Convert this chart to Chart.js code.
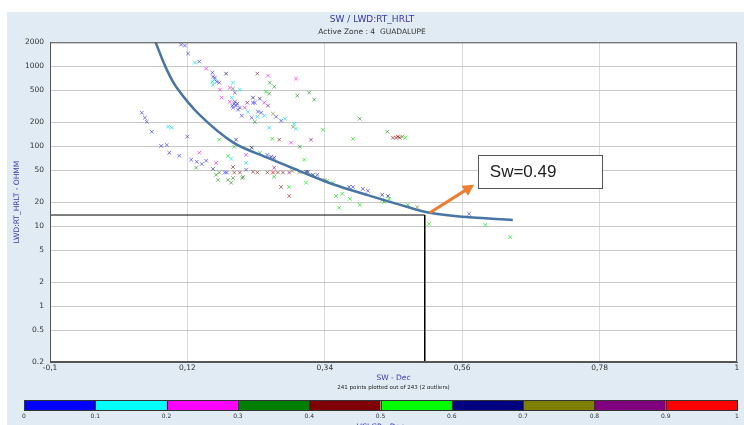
<!DOCTYPE html>
<html>
<head>
<meta charset="utf-8">
<script src="https://cdn.jsdelivr.net/npm/chart.js@4.4.1/dist/chart.umd.min.js"></script>
<style>
html, body { margin: 0; padding: 0; background: #fff; }
</style>
</head>
<body>
<canvas id="chart" width="744" height="425"></canvas>
<script>
// axis ticks
var xTicks = [-0.1, 0.12, 0.34, 0.56, 0.78, 1];
var yTicks = [0.2, 0.5, 1, 2, 5, 10, 20, 50, 100, 200, 500, 1000, 2000];

// VCLGR colour classes
var vclLabels = ['0', '0.1', '0.2', '0.3', '0.4', '0.5', '0.6', '0.7', '0.8', '0.9', '1'];
var vclColors = ['#0000ff', '#00ffff', '#ff00ff', '#008000', '#800000', '#00ff00', '#000080', '#808000', '#800080', '#ff0000'];
var ptColors = ['rgba(50,50,255,0.65)', 'rgba(0,225,235,0.7)', 'rgba(255,0,255,0.6)', 'rgba(0,128,0,0.55)',
                'rgba(128,0,0,0.55)', 'rgba(0,230,0,0.65)', 'rgba(0,0,128,0.6)', 'rgba(128,128,0,0.6)',
                'rgba(128,0,128,0.6)', 'rgba(255,0,0,0.75)'];

// points, [SW, RT] per VCLGR class
var vcl0 = [[0.110,1874],[0.116,1820],[0.121,1445],[0.139,1148],[0.160,836],[0.161,744],[0.167,644],[0.171,625],
            [0.196,469],[0.198,322],[0.193,304],[0.201,287],[0.207,241],[0.195,341],[0.200,341],[0.196,361],
            [0.204,304],[0.192,322],[0.225,351],[0.047,263],[0.052,228],[0.055,203],[0.063,152],[0.078,101],
            [0.087,104],[0.091,83],[0.107,76],[0.120,132],[0.126,68],[0.135,64],[0.143,60],[0.150,66],
            [0.161,52],[0.180,47],[0.183,47],[0.214,51],[0.228,351],[0.233,271],[0.238,263],[0.223,228],
            [0.262,234],[0.270,209],[0.248,78],[0.328,44],[0.379,31],[0.385,31],[0.401,29.3],[0.409,27.7],[0.571,14.3]];
var vcl1 = [[0.132,1115],[0.160,644],[0.161,590],[0.164,682],[0.193,625],[0.204,511],[0.191,406],[0.217,271],
            [0.232,234],[0.243,241],[0.276,221],[0.291,191],[0.294,166],[0.251,171],[0.089,176],[0.095,171],
            [0.190,70],[0.214,62]];
var vcl2 = [[0.150,938],[0.172,511],[0.188,542],[0.175,406],[0.188,361],[0.212,304],[0.243,351],[0.249,766],
            [0.294,701],[0.139,83],[0.166,62],[0.214,78],[0.286,111]];
var vcl3 = [[0.193,526],[0.252,625],[0.259,557],[0.251,455],[0.296,430],[0.315,469],[0.323,383],[0.396,221],
            [0.228,203],[0.300,99],[0.440,152],[0.464,132],[0.134,54],[0.166,44],[0.169,38],[0.185,38],
            [0.190,35],[0.193,40],[0.208,40],[0.209,41.5],[0.171,47],[0.432,21.3]];
var vcl4 = [[0.232,811],[0.267,121],[0.193,55],[0.195,47],[0.204,47],[0.225,48],[0.232,47],[0.248,47],
            [0.265,47],[0.273,47],[0.270,31],[0.283,23.9],[0.449,128],[0.454,128],[0.460,128]];
var vcl5 = [[0.246,482],[0.171,121],[0.195,99],[0.185,76],[0.256,124],[0.236,83],[0.337,161],[0.385,124],
            [0.259,41.5],[0.307,68],[0.310,35],[0.283,31],[0.344,36.9],[0.353,35],[0.358,23.9],[0.368,25.4],
            [0.380,22],[0.363,17],[0.396,18.5],[0.435,20.1],[0.443,22],[0.469,128],[0.473,18.5],[0.507,10.7],
            [0.597,10.4],[0.637,7.3]];
var vcl6 = [[0.182,811],[0.225,406],[0.236,394],[0.198,121],[0.223,96],[0.254,74],[0.259,72],[0.310,48],
            [0.313,48],[0.321,44],[0.432,24.7],[0.441,23.9]];
var vcl7 = [[0.257,256],[0.289,175],[0.288,49],[0.299,47],[0.340,38],[0.488,17.4]];
var vcl8 = [[0.164,722],[0.216,351],[0.249,322],[0.318,121],[0.259,54],[0.283,47]];
var vcl9 = [[0.257,47],[0.457,132]];
var vclSets = [vcl0, vcl1, vcl2, vcl3, vcl4, vcl5, vcl6, vcl7, vcl8, vcl9];

// Sw = 0.49 line drawn on the plot
var swCurve = [[0.069,2000],[0.087,910],[0.103,540],[0.140,245],[0.193,112],[0.248,72],[0.300,49],[0.353,33.5],
               [0.408,24.6],[0.461,18.5],[0.508,14.7],[0.561,13.1],[0.641,12.0]];
var cutX = [-0.1, 0.5, 0.5];
var cutY = [13.8, 13.8, 0.2];

// annotation (data coordinates)
var note = { text: 'Sw=0.49', x0: 0.585, x1: 0.784, y0: 78, y1: 30.2, ax: 0.508, ay: 14.7, bx: 0.579, by: 32.9 };

function xy(arr) {
    return arr.map(function(p) { return { x: p[0], y: p[1] }; });
}

var datasets = [];
datasets.push({
    type: 'line', label: 'Sw', data: xy(swCurve),
    borderColor: '#4775a6', borderWidth: 2.5, pointRadius: 0,
    tension: 0.35, fill: false
});
datasets.push({
    type: 'line', label: 'cut',
    data: cutX.map(function(v, i) { return { x: v, y: cutY[i] }; }),
    borderColor: '#000', borderWidth: 1, pointRadius: 0, tension: 0, fill: false
});
for (var i = 0; i < vclSets.length; i++) {
    datasets.push({
        type: 'scatter', label: vclLabels[i], data: xy(vclSets[i]),
        pointStyle: 'crossRot', pointRadius: 2.6, pointBorderWidth: 1,
        borderColor: ptColors[i], backgroundColor: ptColors[i]
    });
}

var extras = {
    id: 'extras',
    beforeDraw: function(chart) {
        var c = chart.ctx, a = chart.chartArea;
        c.save();
        c.fillStyle = '#fff';
        c.fillRect(0, 0, chart.width, chart.height);
        c.fillStyle = '#e1ebf4';
        c.fillRect(7, 12, chart.width - 7, chart.height - 12);
        c.fillStyle = '#fff';
        c.fillRect(a.left, a.top, a.right - a.left, a.bottom - a.top);
        c.restore();
    },
    afterDraw: function(chart) {
        var c = chart.ctx, a = chart.chartArea;
        var xs = chart.scales.x, ys = chart.scales.y;
        c.save();
        // frame
        c.strokeStyle = '#555';
        c.lineWidth = 1;
        c.strokeRect(a.left + 0.5, a.top + 0.5, a.right - a.left - 1, a.bottom - a.top - 1);

        // annotation
        var bx0 = xs.getPixelForValue(note.x0), bx1 = xs.getPixelForValue(note.x1);
        var by0 = ys.getPixelForValue(note.y0), by1 = ys.getPixelForValue(note.y1);
        c.fillStyle = '#fff';
        c.fillRect(bx0, by0, bx1 - bx0, by1 - by0);
        c.strokeStyle = '#555';
        c.lineWidth = 1;
        c.strokeRect(Math.round(bx0) + 0.5, Math.round(by0) + 0.5, Math.round(bx1 - bx0), Math.round(by1 - by0));
        c.fillStyle = '#222';
        c.font = '17px "Liberation Sans", sans-serif';
        c.textBaseline = 'middle';
        c.textAlign = 'left';
        c.fillText(note.text, bx0 + 12, (by0 + by1) / 2 + 1);

        var ax = xs.getPixelForValue(note.ax), ay = ys.getPixelForValue(note.ay);
        var tx = xs.getPixelForValue(note.bx), ty = ys.getPixelForValue(note.by);
        var ang = Math.atan2(ty - ay, tx - ax);
        c.strokeStyle = '#ed7d31';
        c.fillStyle = '#ed7d31';
        c.lineWidth = 3;
        c.beginPath();
        c.moveTo(ax, ay);
        c.lineTo(tx - 8 * Math.cos(ang), ty - 8 * Math.sin(ang));
        c.stroke();
        c.beginPath();
        c.moveTo(tx, ty);
        c.lineTo(tx - 11 * Math.cos(ang) + 6 * Math.sin(ang), ty - 11 * Math.sin(ang) - 6 * Math.cos(ang));
        c.lineTo(tx - 11 * Math.cos(ang) - 6 * Math.sin(ang), ty - 11 * Math.sin(ang) + 6 * Math.cos(ang));
        c.closePath();
        c.fill();

        // bottom texts
        var mid = (a.left + a.right) / 2;
        c.textAlign = 'center';
        c.fillStyle = '#3a3ab4';
        c.font = '7.5px "DejaVu Sans", sans-serif';
        c.fillText('SW - Dec', mid, 378);
        c.fillStyle = '#222';
        c.font = '5.5px "DejaVu Sans", sans-serif';
        c.fillText('241 points plotted out of 243 (2 outliers)', mid, 388);

        // colour bar
        var L = 24, R = 737, T = 400, H = 10, w = (R - L) / vclColors.length;
        for (var k = 0; k < vclColors.length; k++) {
            c.fillStyle = vclColors[k];
            c.fillRect(L + k * w, T, w, H);
        }
        c.strokeStyle = '#333';
        c.lineWidth = 1;
        c.strokeRect(L + 0.5, T + 0.5, R - L, H);
        for (k = 1; k < vclColors.length; k++) {
            c.beginPath();
            c.moveTo(Math.round(L + k * w) + 0.5, T);
            c.lineTo(Math.round(L + k * w) + 0.5, T + H);
            c.stroke();
        }
        c.fillStyle = '#333';
        c.font = '6px "DejaVu Sans", sans-serif';
        for (k = 0; k < vclLabels.length; k++) {
            c.fillText(vclLabels[k], L + k * w, 416);
        }
        c.fillStyle = '#3a3ab4';
        c.font = '7.5px "DejaVu Sans", sans-serif';
        c.fillText('VCLGR - Dec', (L + R) / 2, 427);
        c.restore();
    }
};

Chart.defaults.font.family = '"DejaVu Sans", sans-serif';

new Chart(document.getElementById('chart'), {
    type: 'scatter',
    data: { datasets: datasets },
    plugins: [extras],
    options: {
        responsive: false,
        animation: false,
        devicePixelRatio: 1,
        layout: { padding: { top: 12, left: 7, right: 7, bottom: 0 } },
        plugins: {
            legend: { display: false },
            tooltip: { enabled: false },
            title: {
                display: true, text: 'SW / LWD:RT_HRLT', color: '#3535a8',
                font: { size: 9, weight: 'normal' }, padding: { top: 2, bottom: 3 }
            },
            subtitle: {
                display: true, text: 'Active Zone : 4  GUADALUPE', color: '#333',
                font: { size: 7.5 }, padding: { top: 0, bottom: 5.5 }
            }
        },
        scales: {
            x: {
                type: 'linear', min: -0.1, max: 1,
                afterBuildTicks: function(s) { s.ticks = xTicks.map(function(v) { return { value: v }; }); },
                afterFit: function(s) { s.height = 63; },
                ticks: {
                    color: '#333', font: { size: 7.5 }, padding: 2, maxRotation: 0, autoSkip: false,
                    callback: function(v) { return String(v).replace('.', ','); }
                },
                grid: { color: '#d9d9d9', drawTicks: false },
                border: { color: '#555' }
            },
            y: {
                type: 'logarithmic', min: 0.2, max: 2000,
                afterBuildTicks: function(s) { s.ticks = yTicks.map(function(v) { return { value: v }; }); },
                afterFit: function(s) { s.width = 43; },
                ticks: {
                    color: '#333', font: { size: 7.5 }, padding: 6, autoSkip: false,
                    callback: function(v) { return String(v); }
                },
                grid: { color: '#c8c8c8', drawTicks: false },
                border: { color: '#555' },
                title: {
                    display: true, text: 'LWD:RT_HRLT - OHMM', color: '#3a3ab4',
                    font: { size: 7.5 }, padding: { top: 6, bottom: 0 }
                }
            }
        }
    }
});
</script>
</body>
</html>
